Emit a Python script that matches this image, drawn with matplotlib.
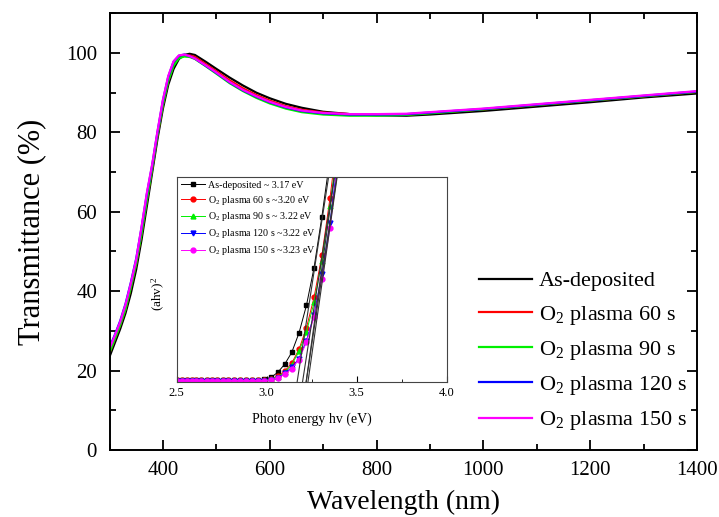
import numpy as np
import matplotlib
matplotlib.use("Agg")
import matplotlib.pyplot as plt
from matplotlib.ticker import MultipleLocator

plt.rcParams['font.family'] = ['Liberation Serif', 'DejaVu Serif']
plt.rcParams['mathtext.fontset'] = 'stix'

# transmittance spectra (%)
wavelength = [300, 310, 320, 330, 340, 350, 360, 370, 380, 390, 400, 410, 420,
              430, 440, 450, 460, 480, 500, 525, 550, 575, 600, 630, 660, 700,
              750, 800, 856, 900, 1000, 1100, 1200, 1300, 1400]
t_asdep = [23.5, 27.0, 30.5, 34.5, 39.5, 45.5, 53.0, 61.5, 70.0, 78.5, 86.0, 92.0, 96.0,
           98.5, 99.5, 99.8, 99.5, 97.8, 96.0, 93.8, 91.8, 90.0, 88.6, 87.2, 86.2, 85.2,
           84.6, 84.3, 84.2, 84.5, 85.4, 86.5, 87.6, 88.8, 89.8]
t_60s = [24.5, 28.0, 31.5, 35.5, 41.0, 47.0, 54.5, 63.0, 71.0, 79.5, 87.0, 93.0, 97.0,
         99.0, 99.5, 99.4, 99.0, 97.2, 95.4, 93.1, 91.1, 89.4, 88.0, 86.6, 85.7, 85.0,
         84.6, 84.5, 84.5, 84.9, 85.8, 86.9, 88.0, 89.1, 90.2]
t_90s = [24.5, 28.0, 31.5, 35.5, 41.0, 47.0, 54.5, 63.0, 71.0, 79.5, 87.0, 93.0, 96.8,
         98.7, 99.1, 99.0, 98.5, 96.7, 94.8, 92.4, 90.4, 88.7, 87.3, 86.0, 85.1, 84.5,
         84.2, 84.2, 84.4, 84.8, 85.8, 86.9, 88.0, 89.1, 90.2]
t_120s = [25.8, 29.0, 32.5, 36.8, 42.2, 48.2, 56.0, 64.5, 71.8, 80.2, 88.0, 94.0, 97.8,
          99.3, 99.6, 99.2, 98.6, 96.8, 95.0, 92.6, 90.6, 89.0, 87.6, 86.3, 85.4, 84.8,
          84.5, 84.5, 84.6, 85.0, 85.9, 87.0, 88.1, 89.2, 90.3]
t_150s = [25.5, 28.8, 32.3, 36.6, 42.0, 48.0, 56.2, 64.8, 72.0, 80.4, 88.2, 94.2, 97.9,
          99.4, 99.6, 99.2, 98.6, 96.9, 95.1, 92.7, 90.7, 89.1, 87.7, 86.4, 85.5, 84.9,
          84.6, 84.6, 84.7, 85.1, 86.0, 87.1, 88.2, 89.3, 90.4]

# Tauc plot points, (alpha h nu)^2 in arbitrary units
tauc_wl = np.array([495, 490, 485, 480, 475, 470, 465, 460, 455, 450, 445, 440, 435,
                    430, 425, 420, 415, 410, 405, 400, 395, 390, 385, 380, 375, 370, 365])
tauc_asdep = [0.10, 0.10, 0.10, 0.10, 0.10, 0.10, 0.10, 0.10, 0.10, 0.10, 0.10, 0.10, 0.10,
              0.10, 0.10, 0.12, 0.18, 0.36, 0.85, 1.64, 2.80, 4.70, 7.40, 11.1, 16.1, 21.8, 28.0]
tauc_60s = [0.10, 0.10, 0.10, 0.10, 0.10, 0.10, 0.10, 0.10, 0.10, 0.10, 0.10, 0.10, 0.10,
            0.10, 0.10, 0.10, 0.10, 0.20, 0.45, 0.95, 1.75, 3.10, 5.20, 8.20, 12.3, 17.9, 24.5]
tauc_90s = [0.15, 0.15, 0.15, 0.15, 0.15, 0.15, 0.15, 0.15, 0.15, 0.15, 0.15, 0.15, 0.15,
            0.15, 0.15, 0.15, 0.12, 0.20, 0.40, 0.85, 1.60, 2.90, 4.80, 7.70, 11.8, 17.1, 23.5]
tauc_120s = [0.05, 0.05, 0.05, 0.05, 0.05, 0.05, 0.05, 0.05, 0.05, 0.05, 0.05, 0.05, 0.05,
             0.05, 0.05, 0.05, 0.05, 0.10, 0.26, 0.75, 1.34, 2.20, 3.95, 6.50, 10.5, 15.5, 22.0]
tauc_150s = [0.05, 0.05, 0.05, 0.05, 0.05, 0.05, 0.05, 0.05, 0.05, 0.05, 0.05, 0.05, 0.05,
             0.05, 0.05, 0.05, 0.05, 0.10, 0.30, 0.65, 1.20, 2.10, 3.80, 6.30, 10.0, 15.0, 21.5]

# band gaps from the linear fits (eV) and fit slopes
gaps = [3.17, 3.20, 3.22, 3.22, 3.23]
fit_slopes = [115, 114, 128, 118, 124]

labels = ['As-deposited', 'O$_\\mathregular{2}$ plasma 60 s', 'O$_\\mathregular{2}$ plasma 90 s',
          'O$_\\mathregular{2}$ plasma 120 s', 'O$_\\mathregular{2}$ plasma 150 s']
inset_labels = ['As-deposited ~ 3.17 eV', 'O$_\\mathregular{2}$ plasma 60 s ~3.20 eV',
                'O$_\\mathregular{2}$ plasma 90 s ~ 3.22 eV', 'O$_\\mathregular{2}$ plasma 120 s ~3.22 eV',
                'O$_\\mathregular{2}$ plasma 150 s ~3.23 eV']
colors = ['black', '#ff0000', '#00f000', '#0000ff', '#ff00ff']
markers = ['s', 'o', '^', 'v', 'o']

fig = plt.figure(figsize=(7.19, 5.17), dpi=100)
ax = fig.add_axes([0.1523, 0.1296, 0.817, 0.8447])

for y, c, lab in zip([t_asdep, t_60s, t_90s, t_120s, t_150s], colors, labels):
    ax.plot(wavelength, y, color=c, lw=1.6, label=lab)

ax.set_xlim(300, 1400)
ax.set_ylim(0, 110)
ax.xaxis.set_major_locator(MultipleLocator(200))
ax.xaxis.set_minor_locator(MultipleLocator(100))
ax.yaxis.set_major_locator(MultipleLocator(20))
ax.yaxis.set_minor_locator(MultipleLocator(10))
ax.set_xticks([400, 600, 800, 1000, 1200, 1400])
ax.tick_params(which='both', direction='in', top=True, right=True, labelsize=15, width=1.3)
ax.tick_params(which='major', length=7)
ax.tick_params(which='minor', length=4)
ax.tick_params(axis='x', pad=8)
ax.tick_params(axis='y', pad=9)
for s in ax.spines.values():
    s.set_linewidth(1.4)
ax.set_xlabel('Wavelength (nm)', fontsize=20, labelpad=7)
ax.set_ylabel('Transmittance (%)', fontsize=22, labelpad=14)

ax.legend(loc='upper left', bbox_to_anchor=(0.666, 0.476), bbox_transform=fig.transFigure,
          frameon=False, fontsize=16, handlelength=2.4, handletextpad=0.3,
          labelspacing=0.55, borderpad=0, borderaxespad=0)

# inset: Tauc plot
ins = fig.add_axes([0.2455, 0.261, 0.376, 0.397])
energy = 1240.0 / tauc_wl
for y, c, m, lab in zip([tauc_asdep, tauc_60s, tauc_90s, tauc_120s, tauc_150s],
                        colors, markers, inset_labels):
    ins.plot(energy, y, color=c, lw=0.7, marker=m, ms=3.5, label=lab)

# linear extrapolation of the absorption edge
for eg, k in zip(gaps, fit_slopes):
    e = np.array([eg - 0.1 / k, eg + 21.0 / k])
    ins.plot(e, k * (e - eg), color='#333333', lw=0.8)

ins.set_xlim(2.5, 4.0)
ins.set_ylim(-0.1, 20)
ins.xaxis.set_major_locator(MultipleLocator(0.5))
ins.xaxis.set_minor_locator(MultipleLocator(0.25))
ins.set_yticks([])
ins.tick_params(which='both', direction='in', labelsize=9)
ins.tick_params(which='major', length=4)
ins.tick_params(which='minor', length=2.5)
for s in ins.spines.values():
    s.set_linewidth(0.8)
    s.set_color('#444444')
ins.set_xlabel('Photo energy hv (eV)', fontsize=10, labelpad=10)
ins.set_ylabel('(ahv)$^\\mathregular{2}$', fontsize=9.5)
ins.yaxis.set_label_coords(-0.035, 0.43)
ins.legend(loc='upper left', frameon=False, fontsize=7.2, handlelength=2.4,
           handletextpad=0.3, labelspacing=0.38, borderpad=0.2, borderaxespad=0.2)

fig.savefig('out.png', dpi=100)
